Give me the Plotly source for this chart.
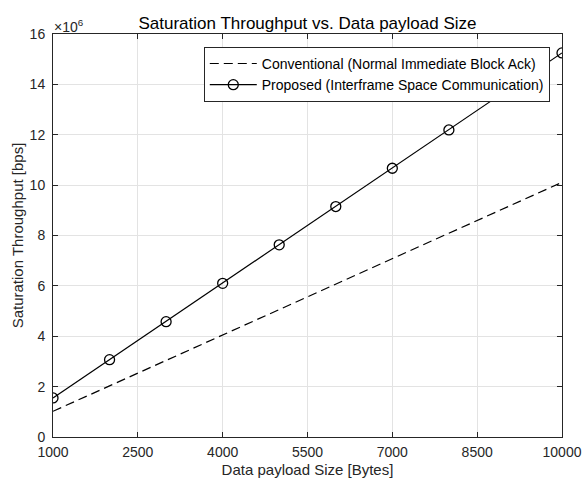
import plotly.graph_objects as go

payload = [1000, 2000, 3000, 4000, 5000, 6000, 7000, 8000, 9000, 10000]
conventional = [1.02e6, 2.03e6, 3.04e6, 4.05e6, 5.06e6, 6.07e6, 7.08e6, 8.09e6, 9.10e6, 10.11e6]
proposed = [1.55e6, 3.07e6, 4.58e6, 6.10e6, 7.63e6, 9.15e6, 10.67e6, 12.19e6, 13.72e6, 15.25e6]
x_ticks = [1000, 2500, 4000, 5500, 7000, 8500, 10000]
x_ticktext = ["1000", "2500", "4000", "5500", "7000", "8500", "10000"]
y_ticks = [0, 2e6, 4e6, 6e6, 8e6, 10e6, 12e6, 14e6, 16e6]
y_ticktext = ["0", "2", "4", "6", "8", "10", "12", "14", "16"]

FONT = "Liberation Sans, Arial, sans-serif"
TXT = "#262626"

fig = go.Figure()
fig.add_trace(go.Scatter(
    x=payload, y=conventional, mode="lines",
    name="Conventional (Normal Immediate Block Ack)",
    line=dict(color="black", width=1.2, dash="9px,5px"),
    hoverinfo="skip",
))
fig.add_trace(go.Scatter(
    x=payload, y=proposed, mode="lines+markers",
    name="Proposed (Interframe Space Communication)",
    line=dict(color="black", width=1.2),
    marker=dict(symbol="circle-open", size=10, color="black", line=dict(width=1.3)),
    hoverinfo="skip",
))

axis_common = dict(
    showline=True, linecolor=TXT, linewidth=1, mirror="allticks",
    ticks="inside", ticklen=5, tickcolor=TXT,
    showgrid=True, gridcolor="#e3e3e3", gridwidth=1,
    zeroline=False, automargin=False,
    tickfont=dict(family=FONT, size=14, color=TXT),
)

fig.update_xaxes(
    range=[1000, 10000], tickvals=x_ticks, ticktext=x_ticktext, ticklabelstandoff=2,
    title=dict(text="Data payload Size [Bytes]", font=dict(family=FONT, size=15, color=TXT), standoff=5),
    **axis_common,
)
fig.update_yaxes(
    range=[0, 16e6], tickvals=y_ticks, ticktext=y_ticktext, ticklabelstandoff=4,
    title=dict(text="Saturation Throughput [bps]", font=dict(family=FONT, size=15, color=TXT), standoff=2),
    **axis_common,
)

fig.add_annotation(
    xref="paper", yref="paper", x=0, y=1, xanchor="left", yanchor="bottom",
    text="×10<sup>6</sup>", showarrow=False,
    font=dict(family=FONT, size=14, color=TXT), yshift=-3, xshift=-1,
)

fig.update_layout(
    width=584, height=488,
    margin=dict(l=53, r=22, t=34, b=51),
    paper_bgcolor="white", plot_bgcolor="white",
    title=dict(text="Saturation Throughput vs. Data payload Size", x=0.5, xref="paper", xanchor="center",
               y=1, yref="paper", yanchor="bottom", pad=dict(b=5),
               font=dict(family=FONT, size=17, color="black")),
    legend=dict(
        x=0.976, y=0.968, xanchor="right", yanchor="top",
        bgcolor="white", bordercolor=TXT, borderwidth=1,
        font=dict(family=FONT, size=14, color="black"),
        itemwidth=47, tracegroupgap=0,
    ),
    showlegend=True,
    hovermode=False,
)

fig.write_html("out.html", config={"displayModeBar": False},
               post_script="document.body.style.margin='0';")
